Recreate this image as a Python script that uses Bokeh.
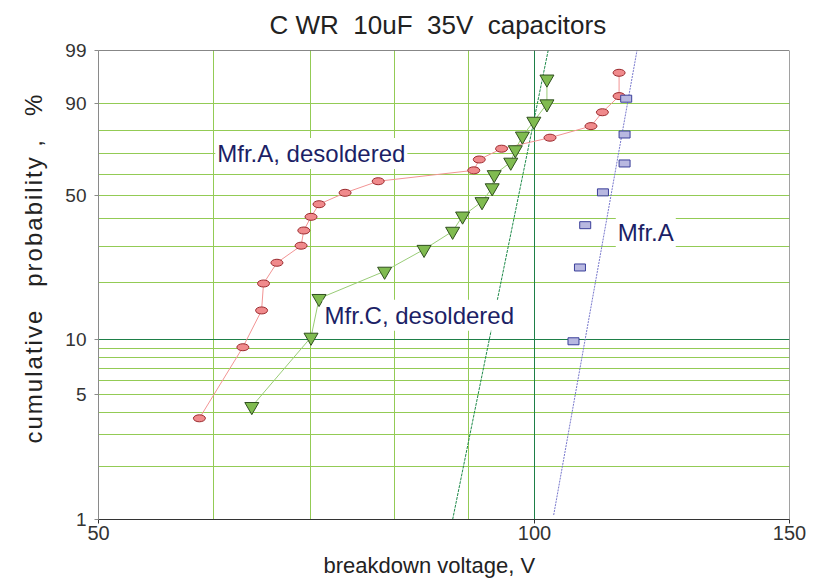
import numpy as np
from bokeh.plotting import figure
from bokeh.models import Range1d, FixedTicker, CustomJSTickFormatter, Grid, Label, Span, Title
from bokeh.embed import file_html
from bokeh.resources import INLINE

# ---------------- data ----------------
# Mfr.A, desoldered  (breakdown voltage V, cumulative probability %)
mfrA_desol_v = [58.7, 62.9, 64.8, 65.0, 66.4, 69.0, 69.3, 70.1, 71.0, 74.0,
                78.0, 90.8, 91.6, 94.9, 102.5, 109.4, 111.4, 114.4, 114.4]
mfrA_desol_p = [3.7, 9.1, 14.3, 19.7, 25.0, 30.2, 35.5, 40.8, 46.1, 51.2,
                56.6, 61.8, 67.0, 72.1, 77.1, 82.0, 87.2, 92.1, 96.8]
# Mfr.C, desoldered
mfrC_desol_v = [63.8, 70.1, 71.0, 78.8, 83.9, 87.8, 89.2, 92.0, 93.5, 93.8,
                96.3, 97.0, 98.1, 99.9, 102.0, 102.0]
mfrC_desol_p = [4.3, 10.3, 16.5, 22.7, 29.0, 35.2, 41.1, 47.2, 53.5, 59.7,
                65.7, 71.6, 77.8, 83.9, 89.9, 95.8]
# Mfr.A (not desoldered)
mfrA_v = [106.4, 107.5, 108.4, 111.5, 115.4, 115.4, 115.7]
mfrA_p = [9.8, 23.7, 37.5, 51.4, 65.1, 78.5, 91.4]
# fitted Weibull lines (end points)
fitC_v = [87.8, 102.2]
fitC_p = [1.0, 99.0]
fitA_v = [103.1, 117.7]
fitA_p = [1.06, 99.0]

x_ticks = [50, 100, 150]
x_grid = [60, 70, 80, 90]
x_grid_dark = [100]
y_ticks = [1, 5, 10, 50, 90, 99]
y_grid = [2, 3, 4, 5, 6, 7, 8, 9, 20, 30, 40, 50, 60, 70, 80, 90]
y_grid_dark = [10]

NBSP = "\u00a0"
HAIR = "\u200a"
EN = "\u2002"
title_text = "C WR" + NBSP + " 10uF" + NBSP + " 35V" + NBSP + " capacitors"
xlabel_text = "breakdown voltage, V"
ylabel_text = (EN + EN).join(HAIR.join(w) for w in ["cumulative", "probability ,", "%"])


def wb(p):
    """Weibull probability transform ln(-ln(1-p))."""
    return [float(v) for v in np.log(-np.log(1.0 - np.asarray(p, dtype=float) / 100.0))]


FONT = "Liberation Sans"
TXT = "#222222"

p = figure(width=815, height=588, x_axis_type="log",
           x_range=Range1d(50, 150), y_range=Range1d(wb([1])[0], wb([99])[0]),
           output_backend="svg", toolbar_location=None,
           min_border_left=98, min_border_right=26,
           min_border_top=50, min_border_bottom=69)
p.background_fill_color = "white"
p.border_fill_color = "white"
p.outline_line_color = None

# title and axis titles
p.title = Title(text=title_text, align="left", offset=171, standoff=18,
                vertical_align="top",
                text_font=FONT, text_font_size="26px", text_font_style="normal",
                text_color=TXT)
p.add_layout(Title(text=xlabel_text, align="left", offset=225, standoff=16,
                   text_font=FONT, text_font_size="22px", text_font_style="normal",
                   text_color=TXT), "below")
p.add_layout(Title(text=ylabel_text, align="left", offset=76, standoff=31,
                   text_font=FONT, text_font_size="24px", text_font_style="normal",
                   text_color=TXT), "left")

# axes
p.xaxis.ticker = FixedTicker(ticks=x_ticks)
p.xaxis.formatter = CustomJSTickFormatter(code="return Math.round(tick).toString();")
p.yaxis.ticker = FixedTicker(ticks=wb(y_ticks))
p.yaxis.formatter = CustomJSTickFormatter(
    code="return Math.round(100*(1-Math.exp(-Math.exp(tick)))).toString();")
for ax in (p.xaxis, p.yaxis):
    ax.major_tick_out = 4
    ax.major_tick_in = 0
    ax.minor_tick_line_color = None
    ax.major_label_text_font = FONT
    ax.major_label_text_color = "#333333"
p.xaxis.major_label_text_font_size = "20px"
p.yaxis.major_label_text_font_size = "19px"
p.xaxis.major_label_standoff = 2
p.yaxis.major_label_standoff = 8
p.xaxis.axis_line_color = "#333333"
p.xaxis.major_tick_line_color = "#333333"
p.yaxis.axis_line_color = "#8a8a8a"
p.yaxis.major_tick_line_color = "#8a8a8a"

# grids
GRID = "#93cb55"
DARK = "#1e7f48"
p.xgrid.ticker = FixedTicker(ticks=x_grid)
p.xgrid.grid_line_color = GRID
p.ygrid.ticker = FixedTicker(ticks=wb(y_grid))
p.ygrid.grid_line_color = GRID
p.add_layout(Grid(dimension=0, ticker=FixedTicker(ticks=x_grid_dark), grid_line_color=DARK))
p.add_layout(Grid(dimension=1, ticker=FixedTicker(ticks=wb(y_grid_dark)), grid_line_color=DARK))

# top and right border
p.add_layout(Span(location=150, dimension="height", line_color="#444444", line_width=1))
p.add_layout(Span(location=wb([99])[0], dimension="width", line_color="#111111", line_width=1))

# fit lines
p.line(fitC_v, wb(fitC_p), line_color="#1e8a4a", line_width=1, line_dash="3 1")
p.line(fitA_v, wb(fitA_p), line_color="#7777cc", line_width=1, line_dash="2 1")

# Mfr.A desoldered
p.line(mfrA_desol_v, wb(mfrA_desol_p), line_color="#f29494", line_width=1)
p.ellipse(mfrA_desol_v, wb(mfrA_desol_p), width=12, height=7,
          width_units="screen", height_units="screen",
          fill_color="#f08a8c", line_color="#9b2a2e", line_width=1)

# Mfr.C desoldered
p.line(mfrC_desol_v, wb(mfrC_desol_p), line_color="#99cc77", line_width=1)
p.scatter(mfrC_desol_v, wb(mfrC_desol_p), marker="inverted_triangle", size=14,
          fill_color="#80bb50", line_color="#2f4f1f", line_width=1)

# Mfr.A
p.rect(mfrA_v, wb(mfrA_p), width=11, height=7,
       width_units="screen", height_units="screen",
       fill_color="#b8b8e0", line_color="#3a3f9a", line_width=1)

# series labels
NAVY = "#1c1f66"
for txt, xv, pv in [("Mfr.A, desoldered", 60.2, 69.9),
                    ("Mfr.C, desoldered", 71.4, 13.5),
                    ("Mfr.A", 113.8, 34.8)]:
    p.add_layout(Label(x=xv, y=wb([pv])[0], text=txt, text_font=FONT,
                       text_font_size="24px", text_color=NAVY,
                       text_baseline="middle", text_align="left",
                       background_fill_color="white", padding=2))

open("out.html", "w").write(file_html(p, INLINE))
